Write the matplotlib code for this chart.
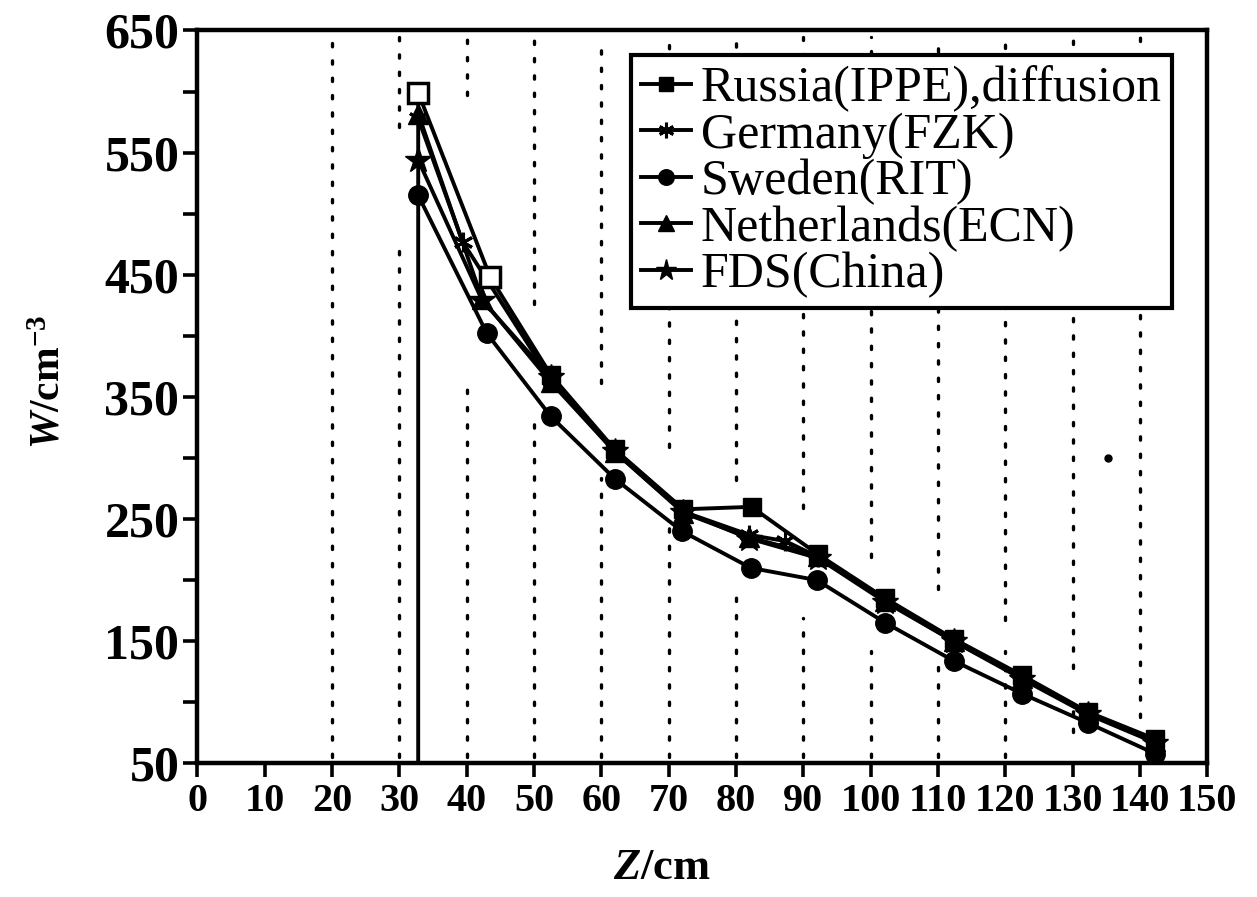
import matplotlib
matplotlib.use("Agg")
import matplotlib.pyplot as plt
import numpy as np

plt.rcParams['font.family'] = ['Liberation Serif', 'DejaVu Serif']
plt.rcParams['mathtext.fontset'] = 'custom'
plt.rcParams['mathtext.rm'] = 'Liberation Serif:bold'
plt.rcParams['mathtext.it'] = 'Liberation Serif:italic:bold'
plt.rcParams['mathtext.bf'] = 'Liberation Serif:bold'

# ---------------- data ----------------
russia_z = [32.8, 32.8, 43.5, 52.5, 62.0, 72.2, 82.3, 92.2, 102.2, 112.3, 122.5, 132.3, 142.2]
russia_w = [0, 599, 448, 368, 307, 258, 260, 221, 185, 152, 122, 92, 70]

germany_z = [32.8, 39.4, 52.5, 62.0, 72.2, 82.0, 87.3, 92.2, 102.2, 112.3, 122.5, 132.3, 142.2]
germany_w = [578, 477, 364, 305, 256, 237, 232, 219, 183, 151, 121, 91, 69]

sweden_z = [32.8, 43.0, 52.5, 62.0, 72.0, 82.2, 92.0, 102.2, 112.3, 122.5, 132.3, 142.2]
sweden_w = [515, 402, 334, 283, 240, 210, 200, 165, 134, 107, 83, 58]

nether_z = [32.8, 42.3, 52.5, 62.0, 72.2, 82.0, 92.2, 102.2, 112.3, 122.5, 132.3, 142.2]
nether_w = [582, 430, 362, 305, 255, 235, 220, 183, 150, 120, 91, 68]

fds_z = [32.8, 42.3, 52.5, 62.0, 72.2, 82.0, 92.2, 102.2, 112.3, 122.5, 132.3, 142.2]
fds_w = [544, 429, 366, 306, 256, 234, 218, 182, 150, 119, 90, 67]

stray_z = [135.3]
stray_w = [300]

labels = ["Russia(IPPE),diffusion", "Germany(FZK)", "Sweden(RIT)",
          "Netherlands(ECN)", "FDS(China)"]

x_ticks = list(range(0, 151, 10))
y_major = [50, 150, 250, 350, 450, 550, 650]
y_minor = [100, 200, 300, 400, 500, 600]

# dotted reference lines (x position, list of visible y-ranges)
grid_x = [20, 30, 40, 50, 60, 70, 80, 90, 100, 110, 120, 130, 140]
grid_ranges = [
    [(55, 645)],
    [(55, 480), (571, 645)],
    [(55, 363), (597, 645)],
    [(55, 336), (426, 645)],
    [(55, 284), (361, 645)],
    [(55, 249), (309, 645)],
    [(55, 194), (282, 645)],
    [(55, 169), (259, 645)],
    [(55, 142), (219, 645)],
    [(55, 130), (193, 645)],
    [(55, 142), (167, 645)],
    [(76, 102), (128, 645)],
    [(88, 645)],
]

# ---------------- figure ----------------
fig = plt.figure(figsize=(12.57, 8.97), dpi=100)
ax = fig.add_axes([0.157, 0.149, 0.8035, 0.817])

for gx, rngs in zip(grid_x, grid_ranges):
    for (y0, y1) in rngs:
        ax.plot([gx, gx], [y0, y1], color='black', lw=2.4,
                linestyle=(0, (1, 4.2)), dash_capstyle='round', zorder=1)

lw = 2.8
k = dict(color='black', lw=lw, zorder=3)

# Russia: line incl. vertical drop, filled squares except first two (open)
ax.plot(russia_z, russia_w, marker='s', ms=13, mfc='black', mec='black',
        markevery=list(range(3, len(russia_z))), label=labels[0], **k)
ax.plot(russia_z[1:3], russia_w[1:3], linestyle='none', marker='s', ms=14,
        mfc='white', mec='black', mew=2.5, zorder=4)

ax.plot(germany_z, germany_w, marker=(6, 2, 0), ms=14, mew=2.2,
        label=labels[1], **k)
ax.plot(sweden_z, sweden_w, marker='o', ms=14, label=labels[2], **k)
ax.plot(nether_z, nether_w, marker='^', ms=14, label=labels[3], **k)
ax.plot(fds_z, fds_w, marker='*', ms=19, label=labels[4], **k)

ax.plot(stray_z, stray_w, linestyle='none', marker='o', ms=5, color='black')

ax.set_xlim(0, 150)
ax.set_ylim(50, 650)

ax.set_xticks(x_ticks)
ax.set_xticklabels([str(v) for v in x_ticks], fontsize=29, fontweight='bold')
ax.set_yticks(y_major)
ax.set_yticklabels([str(v) for v in y_major], fontsize=36, fontweight='bold')
ax.set_yticks(y_minor, minor=True)

ax.tick_params(axis='both', which='both', direction='out', width=2.6, length=10,
               top=False, right=False)
ax.tick_params(axis='x', pad=4)
ax.tick_params(axis='y', pad=3)

for sp in ax.spines.values():
    sp.set_linewidth(3.2)

ax.set_xlabel(r'$Z$/cm', fontsize=32, fontweight='bold')
ax.xaxis.set_label_coords(0.46, -0.115)
ax.set_ylabel(r'$W$/cm$^{-3}$', fontsize=30, fontweight='bold')
ax.yaxis.set_label_coords(-0.128, 0.52)

leg = ax.legend(loc='upper right', bbox_to_anchor=(0.965, 0.966),
                borderaxespad=0, fontsize=36, frameon=True, fancybox=False,
                framealpha=1, edgecolor='black', handlelength=1.0,
                handletextpad=0.2, labelspacing=0.0, borderpad=0.2,
                markerscale=0.8)
leg.get_frame().set_linewidth(3.0)
leg.set_zorder(5)

fig.savefig('out.png', dpi=100)
